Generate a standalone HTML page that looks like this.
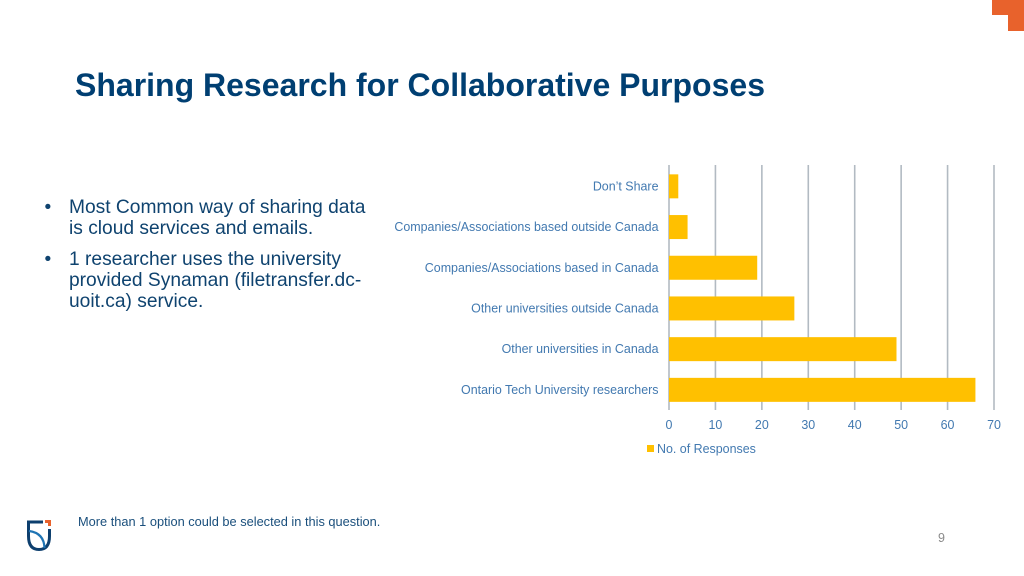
<!DOCTYPE html>
<html lang="en">
<head>
<meta charset="utf-8">
<title>Sharing Research for Collaborative Purposes</title>
<style>
html,body{margin:0;padding:0;background:#fff;}
#slide{position:relative;width:1024px;height:576px;overflow:hidden;background:#fff;font-family:"Liberation Sans",Arial,sans-serif;}
#title{position:absolute;left:75px;top:66px;font-size:32px;line-height:38px;font-weight:bold;color:#003f72;white-space:nowrap;}
.bullet{position:absolute;left:69px;font-size:19.2px;line-height:21px;color:#0f436f;white-space:nowrap;}
.dot{position:absolute;left:44.5px;font-size:19.2px;line-height:21px;color:#0f436f;}
#note{position:absolute;left:78px;top:514px;font-size:12.8px;line-height:16px;color:#1a4f7c;white-space:nowrap;}
#page{position:absolute;left:938px;top:530px;font-size:12.5px;line-height:16px;color:#8a8a8a;}
svg{position:absolute;left:0;top:0;}
</style>
</head>
<body>
<div id="slide">
  <div style="position:absolute;left:992px;top:0;width:32px;height:15px;background:#e8622c;"></div>
  <div style="position:absolute;left:1008px;top:0;width:16px;height:31px;background:#e8622c;"></div>
  <div id="title">Sharing Research for Collaborative Purposes</div>

  <div class="dot" style="top:197px">•</div>
  <div class="bullet" style="top:197px">Most Common way of sharing data<br>is cloud services and emails.</div>
  <div class="dot" style="top:249px">•</div>
  <div class="bullet" style="top:249px">1 researcher uses the university<br>provided Synaman (filetransfer.dc-<br>uoit.ca) service.</div>

  <svg id="chart" width="1024" height="576" viewBox="0 0 1024 576"></svg>

  <svg width="1024" height="576" viewBox="0 0 1024 576">
    <path d="M43 522H28.500V536Q28.500 549.500 39 549.500Q49.500 549.500 49.500 536V529" fill="none" stroke="#0d3f6e" stroke-width="3"/>
    <path d="M29 531Q44 533 44.500 548" fill="none" stroke="#1f74b4" stroke-width="2.2"/>
    <path d="M45 520H51V526H48V523H45Z" fill="#e8622c"/>
  </svg>

  <div id="note">More than 1 option could be selected in this question.</div>
  <div id="page">9</div>
</div>
<script>
const categories = ["Don\u2019t Share", "Companies/Associations based outside Canada", "Companies/Associations based in Canada", "Other universities outside Canada", "Other universities in Canada", "Ontario Tech University researchers"];
const responses = [2, 4, 19, 27, 49, 66];
const xTicks = [0, 10, 20, 30, 40, 50, 60, 70];
const seriesName = "No. of Responses";

const NS = "http://www.w3.org/2000/svg";
const chart = document.getElementById("chart");
const plotLeft = 669, plotRight = 994, plotTop = 165, plotBottom = 410;
const bandTop = 166, bandStep = 40.7;
const xMax = xTicks[xTicks.length - 1];
function xScale(v) { return plotLeft + (v / xMax) * (plotRight - plotLeft); }
function yBand(i) { return bandTop + bandStep * (i + 0.5); }
function make(tag, attrs, text) {
  const el = document.createElementNS(NS, tag);
  for (const k in attrs) el.setAttribute(k, attrs[k]);
  if (text !== undefined) el.textContent = text;
  chart.appendChild(el);
  return el;
}
xTicks.forEach(function (t) {
  const line = make("line", { x1: xScale(t), x2: xScale(t), y1: plotTop, y2: plotBottom, stroke: "#b2bac2", "stroke-width": 1.6 });
  
  
  const lab = make("text", { x: xScale(t), y: 429, "text-anchor": "middle", "font-size": 12.45, fill: "#4279b0", "font-family": "Liberation Sans, Arial, sans-serif" }, String(t));
  
  
});
categories.forEach(function (c, i) {
  const bar = make("rect", { x: xScale(0), y: yBand(i) - 12, width: xScale(responses[i]) - xScale(0), height: 24, fill: "#ffc000" });
  
  
  const lab = make("text", { x: 658.5, y: yBand(i) + 4, "text-anchor": "end", "font-size": 12.45, fill: "#4279b0", "font-family": "Liberation Sans, Arial, sans-serif" }, c);
  
  
});
const swatch = make("rect", { x: 647, y: 445, width: 7, height: 7, fill: "#ffc000" });


const legend = make("text", { x: 657, y: 453, "font-size": 12.45, fill: "#4279b0", "font-family": "Liberation Sans, Arial, sans-serif" }, seriesName);


</script>
</body>
</html>
